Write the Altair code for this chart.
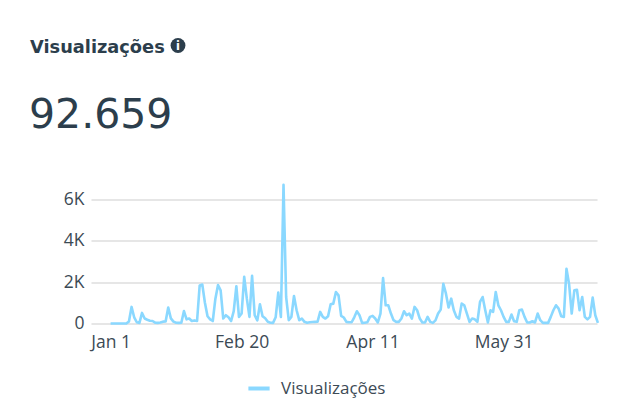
import altair as alt
import pandas as pd

TITLE = "Visualizações"
TOTAL = "92.659"
SERIES = "Visualizações"
TICK_DATES = ["2021-01-01", "2021-02-20", "2021-04-11", "2021-05-31"]
Y_TICKS = [0, 2000, 4000, 6000]

views = [
    0, 0, 0, 0, 0, 0, 0, 100, 800, 300, 60, 30, 510, 240, 180, 130,
    120, 40, 30, 50, 90, 100, 770, 250, 90, 40, 30, 40, 600, 200, 240, 120,
    150, 120, 1840, 1880, 1000, 350, 200, 120, 1200, 1860, 1600, 240, 400, 300, 120, 600,
    1800, 320, 480, 2250, 1200, 320, 2300, 400, 150, 930, 350, 250, 80, 40, 30, 300,
    1490, 320, 6700, 1280, 160, 320, 1330, 640, 160, 240, 80, 40, 60, 70, 80, 90,
    560, 320, 240, 350, 930, 960, 1520, 1360, 370, 290, 80, 60, 60, 300, 590, 400,
    30, 40, 60, 320, 370, 240, 50, 480, 2190, 880, 880, 480, 160, 80, 80, 240,
    590, 400, 480, 240, 800, 640, 240, 50, 50, 320, 80, 30, 150, 480, 670, 1920,
    1440, 770, 1200, 640, 320, 240, 960, 880, 480, 80, 240, 200, 80, 1040, 1280, 640,
    50, 640, 560, 1520, 880, 640, 320, 80, 80, 430, 110, 80, 640, 670, 320, 50,
    50, 110, 50, 480, 160, 30, 30, 30, 320, 640, 880, 720, 350, 320, 2640, 1900,
    480, 1600, 1630, 640, 1280, 320, 200, 320, 1250, 400, 30,
]

dates = pd.date_range("2021-01-01", periods=len(views), freq="D")
df = pd.DataFrame({"date": dates, "views": views, "series": SERIES})

INK = "#2c3e4c"
LINE = "#8ad8ff"
LABEL = "#3c4a55"

x = alt.X(
    "date:T",
    scale=alt.Scale(domain=["2020-12-24T12:30:00", "2021-07-05T15:36:00"]),
    axis=alt.Axis(
        values=TICK_DATES, format="%b %-d", title=None, grid=False, domain=False, ticks=False,
        labelFont="Open Sans", labelFontSize=17.5, labelColor=LABEL, labelPadding=10,
        labelFlush=False, labelOverlap=False,
    ),
)
y = alt.Y(
    "views:Q",
    scale=alt.Scale(domain=[0, 7000], nice=False),
    axis=alt.Axis(
        values=Y_TICKS, labelExpr="datum.value == 0 ? '0' : (datum.value / 1000) + 'K'",
        title=None, domain=False, ticks=False, gridColor="#e6e6e6", gridWidth=2,
        labelFont="Open Sans", labelFontSize=17.5, labelColor=LABEL, labelPadding=7,
    ),
)

line = alt.Chart(df).mark_line(strokeWidth=2.6, interpolate="linear", strokeJoin="round", clip=False).encode(
    x=x, y=y,
    color=alt.Color(
        "series:N",
        scale=alt.Scale(range=[LINE]),
        legend=alt.Legend(
            title=None, orient="none", legendX=155, legendY=197,
            symbolType="stroke", symbolStrokeWidth=4, symbolSize=450,
            labelFont="Open Sans", labelFontSize=17, labelColor=LABEL, labelOffset=9,
        ),
    ),
)

one = alt.Data(values=[{"t": TITLE, "n": TOTAL, "i": "i"}])
title = alt.Chart(one).mark_text(
    align="left", baseline="alphabetic", font="DejaVu Sans", fontWeight=700, fontSize=17.8, color=INK
).encode(x=alt.value(-61), y=alt.value(-126), text="t:N")
total = alt.Chart(one).mark_text(
    align="left", baseline="alphabetic", font="DejaVu Sans", fontWeight=400, fontSize=41, color=INK
).encode(x=alt.value(-62), y=alt.value(-50.5), text="n:N")
dot = alt.Chart(one).mark_point(filled=True, shape="circle", size=220, opacity=1, color=INK).encode(
    x=alt.value(87), y=alt.value(-133)
)
dot_i = alt.Chart(one).mark_text(
    font="Inter", fontWeight=800, fontSize=12, color="white", baseline="middle"
).encode(x=alt.value(87), y=alt.value(-133), text="i:N")

chart = alt.layer(line, title, total, dot, dot_i).properties(
    width=506, height=145,
    padding={"left": 83, "top": 170.5, "right": 6, "bottom": 84},
    autosize=alt.AutoSizeParams(type="none"),
    background="white",
).configure_view(stroke=None)

chart.save("out.html", embed_options={"renderer": "svg", "actions": False})
